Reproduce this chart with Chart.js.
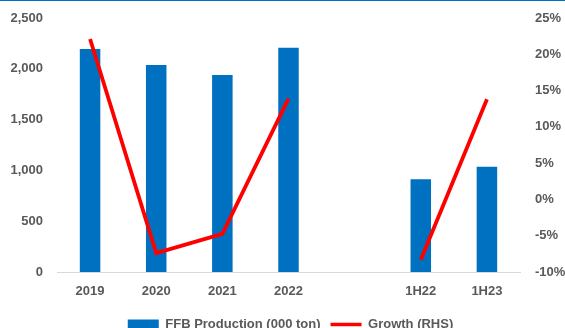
<!DOCTYPE html>
<html>
<head>
<meta charset="utf-8">
<script src="https://cdn.jsdelivr.net/npm/chart.js@4/dist/chart.umd.min.js"></script>
<style>
  html, body { margin: 0; padding: 0; background: #fff; overflow: hidden; }
  #wrap { position: relative; width: 565px; height: 341px; }
  #topline { position: absolute; left: 0; top: 0; width: 565px; height: 1px; background: #0070C0; }
</style>
</head>
<body>
<div id="wrap">
  <canvas id="c" width="565" height="341"></canvas>
  <div id="topline"></div>
</div>
<script>
const categories = ['2019', '2020', '2021', '2022', '', '1H22', '1H23'];
const production = [2195, 2037, 1939, 2208, null, 912, 1037];
const growth = [22.1, -7.4, -4.75, 13.9, null, -8.3, 13.8];
const leftTicks = [0, 500, 1000, 1500, 2000, 2500];
const rightTicks = [-10, -5, 0, 5, 10, 15, 20, 25];

const FONT = { family: '"Liberation Sans", Arial, sans-serif', size: 13, weight: 'bold' };
const GREY = '#595959';

const legendShift = {
  id: 'legendShift',
  afterLayout(chart) {
    const l = chart.legend;
    if (l) { l.left += 8; l.right += 8; }
  }
};

new Chart(document.getElementById('c'), {
  type: 'bar',
  data: {
    labels: categories,
    datasets: [
      {
        type: 'bar',
        label: 'FFB Production (000 ton)',
        data: production,
        backgroundColor: '#0070C0',
        yAxisID: 'y',
        categoryPercentage: 1,
        barPercentage: 0.31,
        order: 2
      },
      {
        type: 'line',
        label: 'Growth (RHS)',
        data: growth,
        borderColor: '#FF0000',
        backgroundColor: '#FF0000',
        borderWidth: 3.8,
        pointRadius: 0,
        tension: 0,
        spanGaps: false,
        yAxisID: 'y1',
        order: 1
      }
    ]
  },
  options: {
    responsive: false,
    animation: false,
    layout: { padding: { top: 18, left: 0, right: 0, bottom: 0 } },
    plugins: {
      tooltip: { enabled: false },
      legend: {
        position: 'bottom',
        labels: {
          color: GREY,
          font: FONT,
          boxWidth: 31,
          boxHeight: 10,
          padding: 10,
          usePointStyle: true,
          pointStyleWidth: 31,
          generateLabels(chart) {
            return chart.data.datasets.map((ds, i) => ({
              text: ds.label,
              fillStyle: ds.type === 'bar' ? '#0070C0' : '#FF0000',
              strokeStyle: ds.type === 'bar' ? '#0070C0' : '#FF0000',
              lineWidth: ds.type === 'bar' ? 0 : 3.5,
              pointStyle: ds.type === 'bar' ? 'rect' : 'line',
              fontColor: GREY,
              datasetIndex: i,
              hidden: false
            }));
          }
        }
      }
    },
    scales: {
      x: {
        grid: { display: false, drawTicks: false },
        border: { display: true, color: '#D9D9D9', width: 1 },
        ticks: { color: GREY, font: FONT, padding: 12, maxRotation: 0, autoSkip: false },
        afterFit(s) { s.height = 36; }
      },
      y: {
        position: 'left',
        min: 0, max: 2500,
        grid: { display: false, drawTicks: false },
        border: { display: false },
        afterBuildTicks(s) { s.ticks = leftTicks.map(v => ({ value: v })); },
        ticks: {
          color: GREY, font: FONT, padding: 14,
          callback: v => v.toLocaleString('en-US')
        },
        afterFit(s) { s.width = 57; s.paddingTop = 0; s.paddingBottom = 0; }
      },
      y1: {
        position: 'right',
        min: -10, max: 25,
        grid: { display: false, drawTicks: false },
        border: { display: false },
        afterBuildTicks(s) { s.ticks = rightTicks.map(v => ({ value: v })); },
        ticks: {
          color: GREY, font: FONT, padding: 15,
          callback: v => v + '%'
        },
        afterFit(s) { s.width = 45; s.paddingTop = 0; s.paddingBottom = 0; }
      }
    }
  },
  plugins: [legendShift]
});
</script>
</body>
</html>
